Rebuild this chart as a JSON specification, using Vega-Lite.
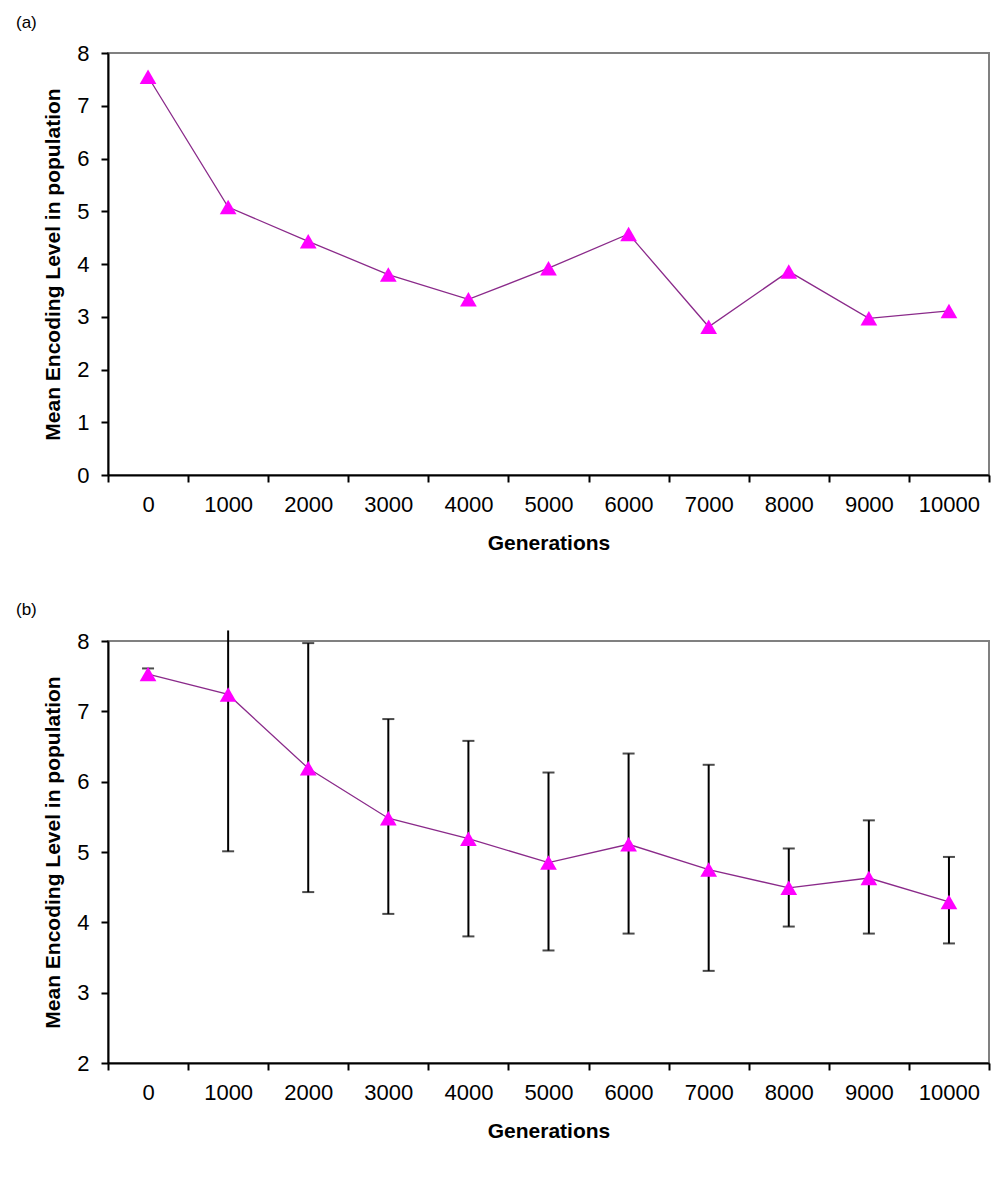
{
  "$schema": "https://vega.github.io/schema/vega-lite/v6.json",
  "padding": {"left": 15, "top": 13, "right": 5, "bottom": 5},
  "spacing": 46,
  "background": "white",
  "config": {
    "font": "Liberation Sans",
    "view": {"stroke": "#808080", "strokeWidth": 2},
    "axis": {
      "domainColor": "black", "domainWidth": 2, "tickColor": "black", "tickWidth": 2,
      "labelColor": "black", "titleColor": "black", "labelFont": "Liberation Sans",
      "titleFont": "Liberation Sans", "labelFontSize": 22, "titleFontSize": 21, "titleFontWeight": "bold",
      "grid": false
    },
    "title": {"font": "Liberation Sans", "fontSize": 17, "fontWeight": "normal", "color": "black"}
  },
  "vconcat": [
    {
      "width": 881, "height": 422,
      "title": {"text": "(a)", "anchor": "start", "frame": "group", "dx": -92, "offset": 10},
      "data": {"values": [
        {"gen": 0, "mean": 7.55}, {"gen": 1000, "mean": 5.08}, {"gen": 2000, "mean": 4.43},
        {"gen": 3000, "mean": 3.8}, {"gen": 4000, "mean": 3.33}, {"gen": 5000, "mean": 3.92},
        {"gen": 6000, "mean": 4.57}, {"gen": 7000, "mean": 2.81}, {"gen": 8000, "mean": 3.86},
        {"gen": 9000, "mean": 2.97}, {"gen": 10000, "mean": 3.11}
      ]},
      "resolve": {"axis": {"x": "independent"}},
      "layer": [
        {
          "mark": {"type": "line", "color": "#8a2a8a", "strokeWidth": 1.3},
          "encoding": {
            "x": {"field": "gen", "type": "quantitative", "scale": {"domain": [-500, 10500], "nice": false, "zero": false},
              "axis": {"orient": "bottom", "values": [0,1000,2000,3000,4000,5000,6000,7000,8000,9000,10000], "ticks": false, "format": "d", "labelPadding": 19, "title": "Generations", "titlePadding": 17, "labelFlush": false}},
            "y": {"field": "mean", "type": "quantitative", "scale": {"domain": [0, 8], "nice": false},
              "axis": {"values": [0,1,2,3,4,5,6,7,8], "format": "d", "tickSize": 7, "labelPadding": 12, "title": "Mean Encoding Level in population", "titlePadding": 13}}
          }
        },
        {
          "mark": {"type": "point", "shape": "triangle-up", "filled": true, "size": 280, "color": "#FF00FF", "opacity": 1},
          "encoding": {
            "x": {"field": "gen", "type": "quantitative",
              "axis": {"orient": "bottom", "values": [-500,500,1500,2500,3500,4500,5500,6500,7500,8500,9500,10500], "labels": false, "domain": false, "tickSize": 7, "title": null}},
            "y": {"field": "mean", "type": "quantitative"}
          }
        }
      ]
    },
    {
      "width": 881, "height": 422,
      "title": {"text": "(b)", "anchor": "start", "frame": "group", "dx": -92, "offset": 10},
      "data": {"values": [
        {"gen": 0, "mean": 7.53, "lo": 7.46, "hi": 7.61, "hicap": 7.61},
        {"gen": 1000, "mean": 7.24, "lo": 5.01, "hi": 8.15, "hicap": null},
        {"gen": 2000, "mean": 6.19, "lo": 4.43, "hi": 7.97, "hicap": 7.97},
        {"gen": 3000, "mean": 5.48, "lo": 4.12, "hi": 6.89, "hicap": 6.89},
        {"gen": 4000, "mean": 5.19, "lo": 3.8, "hi": 6.58, "hicap": 6.58},
        {"gen": 5000, "mean": 4.85, "lo": 3.6, "hi": 6.13, "hicap": 6.13},
        {"gen": 6000, "mean": 5.11, "lo": 3.84, "hi": 6.4, "hicap": 6.4},
        {"gen": 7000, "mean": 4.75, "lo": 3.31, "hi": 6.24, "hicap": 6.24},
        {"gen": 8000, "mean": 4.49, "lo": 3.94, "hi": 5.05, "hicap": 5.05},
        {"gen": 9000, "mean": 4.63, "lo": 3.84, "hi": 5.45, "hicap": 5.45},
        {"gen": 10000, "mean": 4.29, "lo": 3.7, "hi": 4.93, "hicap": 4.93}
      ]},
      "resolve": {"axis": {"x": "independent"}},
      "layer": [
        {
          "mark": {"type": "rule", "color": "black", "strokeWidth": 2},
          "encoding": {
            "x": {"field": "gen", "type": "quantitative", "scale": {"domain": [-500, 10500], "nice": false, "zero": false},
              "axis": {"orient": "bottom", "values": [0,1000,2000,3000,4000,5000,6000,7000,8000,9000,10000], "ticks": false, "format": "d", "labelPadding": 19, "title": "Generations", "titlePadding": 17, "labelFlush": false}},
            "y": {"field": "lo", "type": "quantitative", "scale": {"domain": [2, 8], "nice": false, "zero": false},
              "axis": {"values": [2,3,4,5,6,7,8], "format": "d", "tickSize": 7, "labelPadding": 12, "title": "Mean Encoding Level in population", "titlePadding": 13}},
            "y2": {"field": "hi"}
          }
        },
        {
          "mark": {"type": "tick", "orient": "horizontal", "color": "black", "size": 12, "thickness": 2},
          "encoding": {
            "x": {"field": "gen", "type": "quantitative", "axis": null},
            "y": {"field": "lo", "type": "quantitative"}
          }
        },
        {
          "mark": {"type": "tick", "orient": "horizontal", "color": "black", "size": 12, "thickness": 2},
          "encoding": {
            "x": {"field": "gen", "type": "quantitative", "axis": null},
            "y": {"field": "hicap", "type": "quantitative"}
          }
        },
        {
          "mark": {"type": "line", "color": "#8a2a8a", "strokeWidth": 1.3},
          "encoding": {
            "x": {"field": "gen", "type": "quantitative", "axis": null},
            "y": {"field": "mean", "type": "quantitative"}
          }
        },
        {
          "mark": {"type": "point", "shape": "triangle-up", "filled": true, "size": 280, "color": "#FF00FF", "opacity": 1},
          "encoding": {
            "x": {"field": "gen", "type": "quantitative",
              "axis": {"orient": "bottom", "values": [-500,500,1500,2500,3500,4500,5500,6500,7500,8500,9500,10500], "labels": false, "domain": false, "tickSize": 7, "title": null}},
            "y": {"field": "mean", "type": "quantitative"}
          }
        }
      ]
    }
  ]
}
